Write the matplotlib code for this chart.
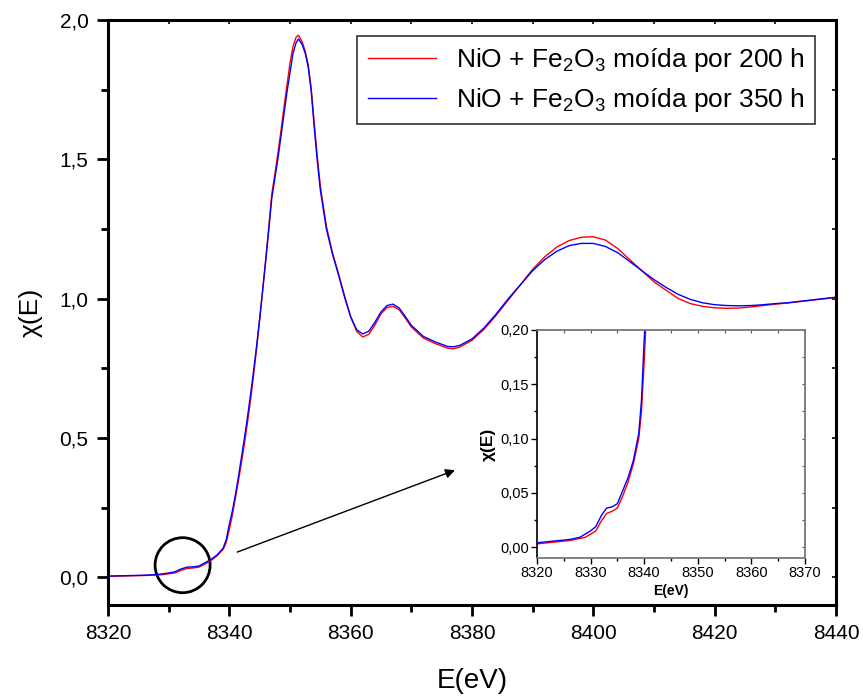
import matplotlib
matplotlib.use("Agg")
import matplotlib.pyplot as plt
from matplotlib.patches import Ellipse
from matplotlib.ticker import MultipleLocator, FuncFormatter

plt.rcParams['font.family'] = ['Liberation Sans', 'DejaVu Sans']
plt.rcParams['mathtext.fontset'] = 'custom'
plt.rcParams['mathtext.rm'] = 'Liberation Sans'
plt.rcParams['mathtext.it'] = 'Liberation Sans:italic'
plt.rcParams['mathtext.default'] = 'regular'

# Fe K-edge XANES, normalized absorption chi(E)
energy = [8320, 8322, 8324, 8326, 8328, 8329, 8330, 8331, 8332, 8333, 8334, 8335,
          8336, 8337, 8338, 8339, 8339.5, 8340, 8340.5, 8341, 8341.5, 8342, 8342.5,
          8343, 8343.5, 8344, 8344.5, 8345, 8345.5, 8346, 8346.5, 8347, 8347.5, 8348,
          8348.5, 8349, 8349.5, 8350, 8350.5, 8351, 8351.4, 8352, 8352.5, 8353, 8353.5,
          8354, 8354.5, 8355, 8356, 8357, 8358, 8359, 8360, 8361, 8362, 8363, 8364,
          8365, 8366, 8367, 8368, 8369, 8370, 8372, 8374, 8376, 8377, 8378, 8380,
          8382, 8384, 8386, 8388, 8390, 8392, 8394, 8396, 8398, 8400, 8402, 8404,
          8406, 8408, 8410, 8412, 8414, 8416, 8418, 8420, 8422, 8424, 8426, 8428,
          8430, 8432, 8434, 8436, 8438, 8440]

chi_200h = [0.003, 0.004, 0.005, 0.006, 0.008, 0.009, 0.012, 0.015, 0.024, 0.031, 0.033, 0.036,
            0.047, 0.060, 0.077, 0.100, 0.125, 0.170, 0.222, 0.283, 0.345, 0.410, 0.480,
            0.555, 0.635, 0.725, 0.820, 0.925, 1.030, 1.140, 1.255, 1.375, 1.445, 1.520,
            1.600, 1.685, 1.765, 1.845, 1.905, 1.938, 1.945, 1.922, 1.890, 1.840, 1.755,
            1.630, 1.510, 1.405, 1.260, 1.165, 1.090, 1.010, 0.935, 0.882, 0.862, 0.872,
            0.905, 0.945, 0.968, 0.972, 0.960, 0.930, 0.898, 0.858, 0.838, 0.822, 0.820,
            0.826, 0.850, 0.890, 0.940, 0.995, 1.050, 1.105, 1.150, 1.185, 1.208, 1.220,
            1.222, 1.210, 1.180, 1.140, 1.100, 1.060, 1.030, 1.000, 0.982, 0.972, 0.967,
            0.965, 0.966, 0.970, 0.975, 0.980, 0.984, 0.989, 0.994, 0.999, 1.004]

chi_350h = [0.004, 0.005, 0.006, 0.007, 0.009, 0.012, 0.015, 0.019, 0.029, 0.036, 0.037, 0.040,
            0.052, 0.064, 0.080, 0.105, 0.135, 0.190, 0.237, 0.295, 0.360, 0.430, 0.500,
            0.575, 0.655, 0.740, 0.830, 0.925, 1.030, 1.135, 1.245, 1.360, 1.430, 1.500,
            1.580, 1.660, 1.740, 1.810, 1.880, 1.918, 1.932, 1.912, 1.882, 1.832, 1.745,
            1.615, 1.495, 1.390, 1.250, 1.160, 1.085, 1.005, 0.935, 0.888, 0.873, 0.883,
            0.915, 0.952, 0.975, 0.980, 0.966, 0.936, 0.904, 0.864, 0.844, 0.828, 0.827,
            0.832, 0.855, 0.895, 0.945, 1.000, 1.050, 1.100, 1.140, 1.170, 1.190, 1.198,
            1.198, 1.187, 1.165, 1.133, 1.100, 1.068, 1.040, 1.015, 0.997, 0.985, 0.978,
            0.975, 0.974, 0.975, 0.978, 0.982, 0.985, 0.990, 0.995, 1.000, 1.005]

labels = ['NiO + Fe$_2$O$_3$ moída por 200 h', 'NiO + Fe$_2$O$_3$ moída por 350 h']
colors = ['#ff0000', '#0000ff']

comma = lambda fmt: FuncFormatter(lambda v, p: (fmt % v).replace('.', ','))

fig = plt.figure(figsize=(8.63, 6.96), dpi=100)
ax = fig.add_axes([0.1251, 0.1307, 0.8436, 0.8406])

ax.plot(energy, chi_200h, color=colors[0], lw=1.0, label=labels[0])
ax.plot(energy, chi_350h, color=colors[1], lw=1.0, label=labels[1])

ax.set_xlim(8320, 8440)
ax.set_ylim(-0.1, 2.0)
ax.xaxis.set_major_locator(MultipleLocator(20))
ax.xaxis.set_minor_locator(MultipleLocator(10))
ax.yaxis.set_major_locator(MultipleLocator(0.5))
ax.yaxis.set_minor_locator(MultipleLocator(0.25))
ax.yaxis.set_major_formatter(comma('%.1f'))
ax.xaxis.set_major_formatter(FuncFormatter(lambda v, p: '%d' % v))
for s in ax.spines.values():
    s.set_linewidth(2.2)
ax.tick_params(which='major', direction='out', length=8, width=2, labelsize=15, pad=6,
               bottom=True, left=True, top=False, right=False)
ax.tick_params(which='minor', direction='out', length=5, width=2, bottom=True, left=True,
               top=False, right=False)
# short inward ticks on the opposite spines
axt = ax.secondary_xaxis('top')
axt.xaxis.set_major_locator(MultipleLocator(10))
axt.tick_params(direction='in', length=3, width=1.2, labeltop=False)
axt.spines['top'].set_visible(False)
axr = ax.secondary_yaxis('right')
axr.yaxis.set_major_locator(MultipleLocator(0.25))
axr.tick_params(direction='in', length=3, width=1.2, labelright=False)
axr.spines['right'].set_visible(False)

ax.set_xlabel('E(eV)', fontsize=20, labelpad=18)
ax.set_ylabel('χ(E)', fontsize=19, labelpad=12)

leg = ax.legend(loc='upper right', bbox_to_anchor=(0.971, 0.9726), fontsize=19,
                frameon=True, fancybox=False, edgecolor='black', handlelength=2.6,
                handletextpad=0.75, borderpad=0.38, labelspacing=0.45, borderaxespad=0)
leg.get_frame().set_linewidth(1.2)

# circle marking the pre-edge region, and arrow pointing to the zoom
ax.add_patch(Ellipse((8332.3, 0.043), width=9.07, height=0.1975, fill=False,
                     edgecolor='black', lw=2.0))
ax.annotate('', xy=(8377.2, 0.384), xytext=(8341.3, 0.09),
            arrowprops=dict(arrowstyle='-|>', color='black', lw=1.0,
                            mutation_scale=14, shrinkA=0, shrinkB=0))

# inset: pre-edge zoom
axi = fig.add_axes([0.6222, 0.1983, 0.3105, 0.3276])
axi.plot(energy, chi_200h, color=colors[0], lw=1.0)
axi.plot(energy, chi_350h, color=colors[1], lw=1.0)
axi.set_xlim(8320, 8370)
axi.set_ylim(-0.01, 0.20)
axi.xaxis.set_major_locator(MultipleLocator(10))
axi.xaxis.set_minor_locator(MultipleLocator(5))
axi.yaxis.set_major_locator(MultipleLocator(0.05))
axi.yaxis.set_minor_locator(MultipleLocator(0.025))
axi.yaxis.set_major_formatter(comma('%.2f'))
axi.xaxis.set_major_formatter(FuncFormatter(lambda v, p: '%d' % v))
for name, s in axi.spines.items():
    s.set_linewidth(1.3)
    s.set_color('#111111' if name == 'left' else '#777777')
axi.tick_params(which='major', direction='out', length=4, width=1, labelsize=10.5, pad=2)
axi.tick_params(which='minor', direction='out', length=2.5, width=1)
ait = axi.secondary_xaxis('top')
ait.xaxis.set_major_locator(MultipleLocator(5))
ait.tick_params(direction='in', length=2, width=0.8, labeltop=False, color='#555555')
ait.spines['top'].set_visible(False)
air = axi.secondary_yaxis('right')
air.yaxis.set_major_locator(MultipleLocator(0.025))
air.tick_params(direction='in', length=2, width=0.8, labelright=False, color='#555555')
air.spines['right'].set_visible(False)
axi.set_xlabel('E(eV)', fontsize=10, fontweight='bold', labelpad=3)
axi.set_ylabel('χ(E)', fontsize=12.5, fontweight='bold', labelpad=3)

fig.savefig('out.png', dpi=100)
